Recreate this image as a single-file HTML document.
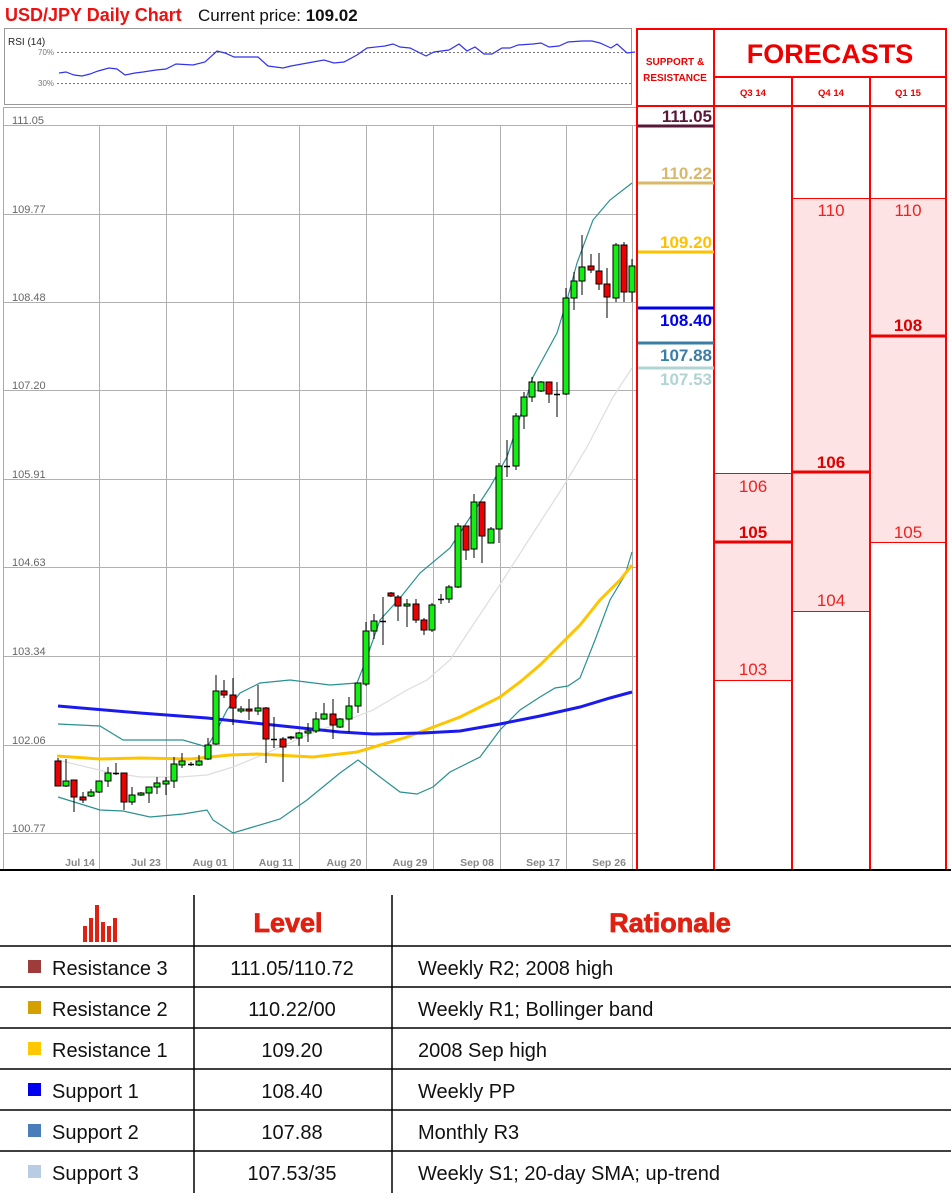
<!DOCTYPE html>
<html><head><meta charset="utf-8"><style>
html,body{margin:0;padding:0;background:#fff;}
svg{display:block;font-family:"Liberation Sans",sans-serif;}
</style></head><body>
<svg width="951" height="1197" viewBox="0 0 951 1197" xmlns="http://www.w3.org/2000/svg">
<rect width="951" height="1197" fill="#fff"/>
<!-- title -->
<text x="5" y="21" font-size="18" font-weight="bold" fill="#ee1111">USD/JPY Daily Chart</text>
<text x="198" y="21" font-size="17" fill="#111">Current price: <tspan font-weight="bold">109.02</tspan></text>

<!-- RSI panel -->
<rect x="4.5" y="28.5" width="627" height="76" fill="#fff" stroke="#999"/>
<text x="8" y="45" font-size="10" fill="#222">RSI (14)</text>
<line x1="57" y1="52.5" x2="631" y2="52.5" stroke="#777" stroke-dasharray="2,2"/>
<line x1="57" y1="83.5" x2="631" y2="83.5" stroke="#777" stroke-dasharray="2,2"/>
<text x="38" y="55" font-size="8" fill="#777">70%</text>
<text x="38" y="86" font-size="8" fill="#777">30%</text>
<polyline fill="none" stroke="#3333ee" stroke-width="1.2" points="59,73 66,72 74,75 82,76 90,74 98,71 109,68 117,69 125,75 135,73 143,72 156,70 166,69 176,64 193,65 205,62 217,51 225,53 234,57 258,57 268,66 283,68 291,66 324,60 334,63 344,62 357,55 367,48 385,46 393,44 400,47 410,48 426,56 434,52 449,50 459,44 467,51 475,47 484,54 492,54 502,48 510,48 518,45 533,44 541,43 549,47 559,46 568,42 582,41 592,41 600,43 611,48 617,44 627,53 635,52"/>

<!-- main chart frame -->
<rect x="3.5" y="107.5" width="634" height="763" fill="#fff" stroke="#aaa"/>
<g stroke="#b0b0b0" stroke-width="1">
<line x1="4" y1="125.5" x2="637" y2="125.5"/><line x1="4" y1="214.5" x2="637" y2="214.5"/>
<line x1="4" y1="302.5" x2="637" y2="302.5"/><line x1="4" y1="390.5" x2="637" y2="390.5"/>
<line x1="4" y1="479.5" x2="637" y2="479.5"/><line x1="4" y1="567.5" x2="637" y2="567.5"/>
<line x1="4" y1="656.5" x2="637" y2="656.5"/><line x1="4" y1="745.5" x2="637" y2="745.5"/>
<line x1="4" y1="833.5" x2="637" y2="833.5"/>
<line x1="99.5" y1="125" x2="99.5" y2="870"/><line x1="166.5" y1="125" x2="166.5" y2="870"/>
<line x1="233.5" y1="125" x2="233.5" y2="870"/><line x1="299.5" y1="125" x2="299.5" y2="870"/>
<line x1="366.5" y1="125" x2="366.5" y2="870"/><line x1="433.5" y1="125" x2="433.5" y2="870"/>
<line x1="500.5" y1="125" x2="500.5" y2="870"/><line x1="566.5" y1="125" x2="566.5" y2="870"/>
<line x1="632.5" y1="125" x2="632.5" y2="870"/>
</g>
<g font-size="11" fill="#666">
<text x="12" y="124">111.05</text><text x="12" y="213">109.77</text><text x="12" y="301">108.48</text>
<text x="12" y="389">107.20</text><text x="12" y="478">105.91</text><text x="12" y="566">104.63</text>
<text x="12" y="655">103.34</text><text x="12" y="744">102.06</text><text x="12" y="832">100.77</text>
</g>
<g font-size="10.5" font-weight="bold" fill="#888" text-anchor="middle">
<text x="80" y="866">Jul 14</text><text x="146" y="866">Jul 23</text><text x="210" y="866">Aug 01</text>
<text x="276" y="866">Aug 11</text><text x="344" y="866">Aug 20</text><text x="410" y="866">Aug 29</text>
<text x="477" y="866">Sep 08</text><text x="543" y="866">Sep 17</text><text x="609" y="866">Sep 26</text>
</g>

<!-- indicators -->
<polyline fill="none" stroke="#dddddd" stroke-width="1.2" points="58,760 107,772 140,777 180,777 207,775 233,767 267,753 307,735 340,723 373,710 407,690 427,680 450,660 463,640 503,580 537,527 563,487 587,447 613,397 632,368"/>
<polyline fill="none" stroke="#2a9090" stroke-width="1.2" points="58,724 100,726 123,740 183,740 207,747 216,732 227,710 240,693 260,683 290,680 330,685 357,683 366,660 380,620 400,598 420,573 450,548 490,487 507,457 533,377 557,333 567,300 577,263 593,220 610,200 632,183"/>
<polyline fill="none" stroke="#2a9090" stroke-width="1.2" points="58,797 100,810 123,811 150,817 183,814 207,810 213,820 233,833 253,827 280,819 307,800 340,773 358,760 380,777 400,792 417,794 433,787 450,772 460,767 480,757 500,730 520,710 540,697 555,688 568,686 580,678 595,640 610,600 625,575 632,552"/>
<polyline fill="none" stroke="#ffc400" stroke-width="3" points="57,756 100,759 140,758 190,759 230,755 257,754 313,757 357,752 407,737 460,717 480,707 500,697 520,682 540,665 560,645 580,625 600,600 620,580 632,565"/>
<polyline fill="none" stroke="#1a1aee" stroke-width="3" points="58,706 140,713 207,718 273,725 340,732 373,734 423,733 460,731 500,724 540,716 580,707 610,698 632,692"/>

<!-- candles -->
<g stroke="#000" stroke-width="1">
<g>
<line x1="58" y1="758" x2="58" y2="786"/><line x1="66" y1="759" x2="66" y2="787"/><line x1="74" y1="780" x2="74" y2="812"/><line x1="83" y1="792" x2="83" y2="803"/><line x1="91" y1="789" x2="91" y2="797"/><line x1="99" y1="781" x2="99" y2="793"/><line x1="108" y1="767" x2="108" y2="787"/><line x1="116" y1="763" x2="116" y2="775"/><line x1="124" y1="773" x2="124" y2="810"/><line x1="132" y1="787" x2="132" y2="805"/><line x1="141" y1="792" x2="141" y2="796"/><line x1="149" y1="787" x2="149" y2="803"/><line x1="157" y1="777" x2="157" y2="794"/><line x1="166" y1="777" x2="166" y2="795"/><line x1="174" y1="757" x2="174" y2="788"/><line x1="182" y1="753" x2="182" y2="768"/><line x1="191" y1="762" x2="191" y2="766"/><line x1="199" y1="755" x2="199" y2="766"/><line x1="208" y1="738" x2="208" y2="760"/><line x1="216" y1="675" x2="216" y2="745"/><line x1="224" y1="680" x2="224" y2="698"/><line x1="233" y1="678" x2="233" y2="725"/><line x1="241" y1="706" x2="241" y2="713"/><line x1="249" y1="699" x2="249" y2="720"/><line x1="258" y1="685" x2="258" y2="715"/><line x1="266" y1="707" x2="266" y2="763"/><line x1="274" y1="717" x2="274" y2="748"/><line x1="283" y1="737" x2="283" y2="782"/><line x1="291" y1="736" x2="291" y2="740"/><line x1="299" y1="732" x2="299" y2="746"/><line x1="308" y1="723" x2="308" y2="742"/><line x1="316" y1="712" x2="316" y2="733"/><line x1="324" y1="703" x2="324" y2="720"/><line x1="333" y1="699" x2="333" y2="739"/><line x1="340" y1="718" x2="340" y2="728"/><line x1="349" y1="697" x2="349" y2="732"/><line x1="358" y1="683" x2="358" y2="713"/><line x1="366" y1="622" x2="366" y2="686"/><line x1="374" y1="614" x2="374" y2="639"/><line x1="383" y1="597" x2="383" y2="645"/><line x1="391" y1="592" x2="391" y2="597"/><line x1="398" y1="595" x2="398" y2="621"/><line x1="407" y1="599" x2="407" y2="627"/><line x1="416" y1="599" x2="416" y2="623"/><line x1="424" y1="618" x2="424" y2="635"/><line x1="432" y1="603" x2="432" y2="632"/><line x1="441" y1="594" x2="441" y2="604"/><line x1="449" y1="585" x2="449" y2="603"/><line x1="458" y1="523" x2="458" y2="588"/><line x1="466" y1="526" x2="466" y2="560"/><line x1="474" y1="494" x2="474" y2="558"/><line x1="482" y1="502" x2="482" y2="563"/><line x1="491" y1="527" x2="491" y2="543"/><line x1="499" y1="463" x2="499" y2="543"/><line x1="507" y1="440" x2="507" y2="477"/><line x1="516" y1="413" x2="516" y2="470"/><line x1="524" y1="392" x2="524" y2="429"/><line x1="532" y1="377" x2="532" y2="402"/><line x1="541" y1="381" x2="541" y2="392"/><line x1="549" y1="382" x2="549" y2="403"/><line x1="557" y1="382" x2="557" y2="417"/><line x1="566" y1="288" x2="566" y2="395"/><line x1="574" y1="272" x2="574" y2="310"/><line x1="582" y1="235" x2="582" y2="295"/><line x1="591" y1="254" x2="591" y2="273"/><line x1="599" y1="253" x2="599" y2="290"/><line x1="607" y1="268" x2="607" y2="318"/><line x1="616" y1="243" x2="616" y2="302"/><line x1="624" y1="242" x2="624" y2="302"/><line x1="632" y1="259" x2="632" y2="302"/>
</g>
<g fill="#ee0000">
<rect x="55" y="761" width="6" height="25"/><rect x="71" y="780" width="6" height="17"/><rect x="80" y="797" width="6" height="3"/><rect x="121" y="773" width="6" height="29"/><rect x="221" y="691" width="6" height="4"/><rect x="230" y="695" width="6" height="13"/><rect x="246" y="709" width="6" height="2"/><rect x="263" y="708" width="6" height="31"/><rect x="280" y="739" width="6" height="8"/><rect x="288" y="737" width="6" height="1"/><rect x="330" y="714" width="6" height="11"/><rect x="388" y="593" width="6" height="3"/><rect x="395" y="597" width="6" height="9"/><rect x="413" y="604" width="6" height="16"/><rect x="421" y="620" width="6" height="10"/><rect x="463" y="526" width="6" height="24"/><rect x="479" y="502" width="6" height="34"/><rect x="546" y="382" width="6" height="12"/><rect x="588" y="266" width="6" height="4"/><rect x="596" y="271" width="6" height="13"/><rect x="604" y="284" width="6" height="13"/><rect x="621" y="245" width="6" height="47"/>
</g>
<g fill="#11ee11">
<rect x="63" y="781" width="6" height="5"/><rect x="88" y="792" width="6" height="4"/><rect x="96" y="781" width="6" height="11"/><rect x="105" y="773" width="6" height="8"/><rect x="129" y="795" width="6" height="7"/><rect x="138" y="793" width="6" height="2"/><rect x="146" y="787" width="6" height="6"/><rect x="154" y="783" width="6" height="4"/><rect x="163" y="781" width="6" height="3"/><rect x="171" y="764" width="6" height="17"/><rect x="179" y="761" width="6" height="4"/><rect x="196" y="761" width="6" height="4"/><rect x="205" y="745" width="6" height="14"/><rect x="213" y="691" width="6" height="53"/><rect x="238" y="709" width="6" height="2"/><rect x="255" y="708" width="6" height="3"/><rect x="296" y="733" width="6" height="5"/><rect x="305" y="731" width="6" height="2"/><rect x="313" y="719" width="6" height="12"/><rect x="321" y="714" width="6" height="5"/><rect x="337" y="719" width="6" height="8"/><rect x="346" y="706" width="6" height="13"/><rect x="355" y="683" width="6" height="23"/><rect x="363" y="631" width="6" height="53"/><rect x="371" y="621" width="6" height="10"/><rect x="404" y="604" width="6" height="2"/><rect x="429" y="605" width="6" height="25"/><rect x="446" y="587" width="6" height="12"/><rect x="455" y="526" width="6" height="61"/><rect x="471" y="502" width="6" height="47"/><rect x="488" y="529" width="6" height="14"/><rect x="496" y="466" width="6" height="63"/><rect x="513" y="416" width="6" height="50"/><rect x="521" y="397" width="6" height="19"/><rect x="529" y="382" width="6" height="15"/><rect x="538" y="382" width="6" height="9"/><rect x="563" y="298" width="6" height="96"/><rect x="571" y="281" width="6" height="17"/><rect x="579" y="267" width="6" height="14"/><rect x="613" y="245" width="6" height="53"/><rect x="629" y="266" width="6" height="26"/>
</g>
<g stroke-width="1.5">
<line x1="113" y1="773.5" x2="119" y2="773.5"/><line x1="188" y1="764.5" x2="194" y2="764.5"/><line x1="271" y1="739.5" x2="277" y2="739.5"/><line x1="380" y1="621.5" x2="386" y2="621.5"/><line x1="438" y1="599.5" x2="444" y2="599.5"/><line x1="504" y1="466.5" x2="510" y2="466.5"/><line x1="554" y1="394.5" x2="560" y2="394.5"/>
</g>
</g>

<!-- right panel -->
<rect x="715" y="473" width="77" height="207" fill="#fde3e3"/>
<rect x="793" y="198" width="77" height="413" fill="#fde3e3"/>
<rect x="870" y="198" width="76" height="344" fill="#fde3e3"/>
<g stroke="#ff0000" stroke-width="1">
<line x1="715" y1="473.5" x2="792" y2="473.5"/><line x1="715" y1="680.5" x2="792" y2="680.5"/>
<line x1="792" y1="198.5" x2="946" y2="198.5"/><line x1="792" y1="611.5" x2="870" y2="611.5"/>
<line x1="870" y1="542.5" x2="946" y2="542.5"/>
</g>
<g stroke="#ee0000" stroke-width="3">
<line x1="715" y1="542" x2="792" y2="542"/><line x1="792" y1="472" x2="870" y2="472"/><line x1="870" y1="336" x2="946" y2="336"/>
</g>
<g stroke="#ff0000" stroke-width="2" fill="none">
<rect x="637" y="29" width="309" height="841"/>
<line x1="714" y1="29" x2="714" y2="870"/><line x1="792" y1="77" x2="792" y2="870"/><line x1="870" y1="77" x2="870" y2="870"/>
<line x1="714" y1="77" x2="946" y2="77"/><line x1="637" y1="106" x2="946" y2="106"/>
</g>
<g fill="#ee0000" font-weight="bold" text-anchor="middle">
<text x="675" y="65" font-size="10">SUPPORT &amp;</text>
<text x="675" y="81" font-size="10">RESISTANCE</text>
<text x="830" y="63" font-size="27">FORECASTS</text>
<text x="753" y="96" font-size="9.5">Q3 14</text>
<text x="831" y="96" font-size="9.5">Q4 14</text>
<text x="908" y="96" font-size="9.5">Q1 15</text>
</g>
<g font-size="17" text-anchor="middle" fill="#ee2222">
<text x="831" y="216">110</text><text x="908" y="216">110</text>
<text x="753" y="492">106</text><text x="753" y="675">103</text>
<text x="831" y="606">104</text><text x="908" y="538">105</text>
<text x="753" y="538" font-weight="bold" fill="#dd0000">105</text>
<text x="831" y="468" font-weight="bold" fill="#dd0000">106</text>
<text x="908" y="331" font-weight="bold" fill="#dd0000">108</text>
</g>
<g stroke-width="3">
<line x1="638" y1="126" x2="714" y2="126" stroke="#5a1838"/>
<line x1="638" y1="183" x2="714" y2="183" stroke="#d9b86a"/>
<line x1="638" y1="252" x2="714" y2="252" stroke="#ffc000"/>
<line x1="638" y1="308" x2="714" y2="308" stroke="#0000ee"/>
<line x1="638" y1="343" x2="714" y2="343" stroke="#3a7ea6"/>
<line x1="638" y1="368" x2="714" y2="368" stroke="#b0d4d4"/>
</g>
<g font-size="17" font-weight="bold" text-anchor="end">
<text x="712" y="122" fill="#5a1838">111.05</text>
<text x="712" y="179" fill="#d9b86a">110.22</text>
<text x="712" y="248" fill="#ffc000">109.20</text>
<text x="712" y="326" fill="#0000ee">108.40</text>
<text x="712" y="361" fill="#3a7ea6">107.88</text>
<text x="712" y="385" fill="#b0d4d4">107.53</text>
</g>
<line x1="0" y1="870" x2="951" y2="870" stroke="#000" stroke-width="2"/>

<!-- table -->
<g fill="#e02010">
<rect x="83" y="926" width="4" height="16"/><rect x="89" y="918" width="4" height="24"/><rect x="95" y="905" width="4" height="37"/><rect x="101" y="922" width="4" height="20"/><rect x="107" y="926" width="4" height="16"/><rect x="113" y="918" width="4" height="24"/>
</g>
<g font-weight="bold" fill="#e02010" font-size="27" text-anchor="middle" stroke="#e02010" stroke-width="0.8">
<text x="288" y="932">Level</text><text x="670" y="932">Rationale</text>
</g>
<g stroke="#000" stroke-width="1.5">
<line x1="194" y1="895" x2="194" y2="1193"/><line x1="392" y1="895" x2="392" y2="1193"/>
<line x1="0" y1="946" x2="951" y2="946"/><line x1="0" y1="987" x2="951" y2="987"/>
<line x1="0" y1="1028" x2="951" y2="1028"/><line x1="0" y1="1069" x2="951" y2="1069"/>
<line x1="0" y1="1110" x2="951" y2="1110"/><line x1="0" y1="1151" x2="951" y2="1151"/>
</g>
<rect x="28" y="960" width="13" height="13" fill="#9e3b3b"/>
<rect x="28" y="1001" width="13" height="13" fill="#d4a000"/>
<rect x="28" y="1042" width="13" height="13" fill="#ffc800"/>
<rect x="28" y="1083" width="13" height="13" fill="#0000ee"/>
<rect x="28" y="1124" width="13" height="13" fill="#4a7ebb"/>
<rect x="28" y="1165" width="13" height="13" fill="#b8cce4"/>
<g font-size="20" fill="#111">
<text x="52" y="975">Resistance 3</text><text x="52" y="1016">Resistance 2</text><text x="52" y="1057">Resistance 1</text>
<text x="52" y="1098">Support 1</text><text x="52" y="1139">Support 2</text><text x="52" y="1180">Support 3</text>
<g text-anchor="middle">
<text x="292" y="975">111.05/110.72</text><text x="292" y="1016">110.22/00</text><text x="292" y="1057">109.20</text>
<text x="292" y="1098">108.40</text><text x="292" y="1139">107.88</text><text x="292" y="1180">107.53/35</text>
</g>
<text x="418" y="975">Weekly R2; 2008 high</text><text x="418" y="1016">Weekly R1; Bollinger band</text>
<text x="418" y="1057">2008 Sep high</text><text x="418" y="1098">Weekly PP</text>
<text x="418" y="1139">Monthly R3</text><text x="418" y="1180">Weekly S1; 20-day SMA; up-trend</text>
</g>
</svg>
</body></html>
